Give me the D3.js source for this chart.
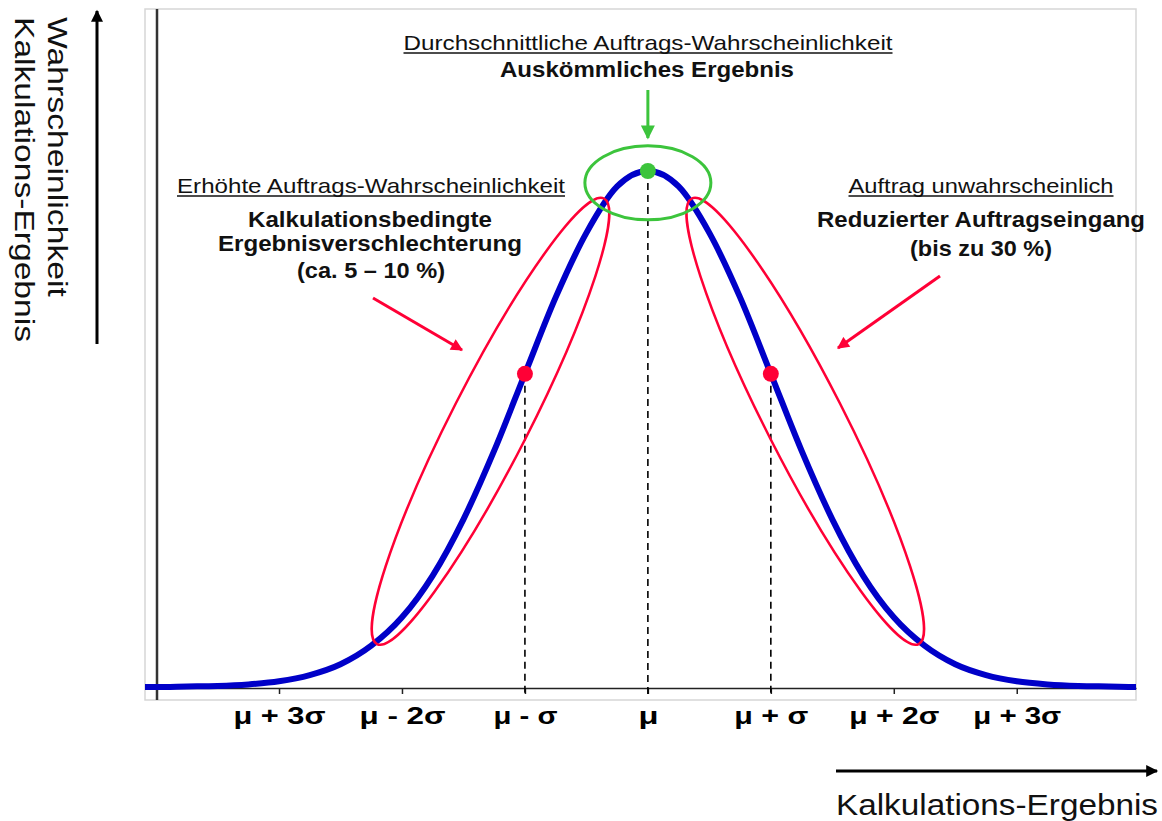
<!DOCTYPE html>
<html>
<head>
<meta charset="utf-8">
<script src="https://cdn.jsdelivr.net/npm/d3@7"></script>
<style>
  body { margin: 0; background: #fff; }
  svg { display: block; font-family: "Liberation Sans", Arial, sans-serif; }
</style>
</head>
<body>
<div id="chart"></div>
<script>
// Position on the x axis, in sigma units from the mean
var zValues = [-4.25, -4, -3.75, -3.5, -3.25, -3, -2.75, -2.5, -2.25, -2, -1.75, -1.5, -1.25, -1, -0.75, -0.5, -0.25,
  0, 0.25, 0.5, 0.75, 1, 1.25, 1.5, 1.75, 2, 2.25, 2.5, 2.75, 3, 3.25, 3.5, 3.75, 4, 4.25];
// Relative height of the curve (peak = 1)
var heights = [0, 0, 0.001, 0.002, 0.005, 0.011, 0.023, 0.044, 0.08, 0.135, 0.216, 0.325, 0.458, 0.607, 0.755, 0.88, 0.97,
  1, 0.97, 0.88, 0.755, 0.607, 0.458, 0.325, 0.216, 0.135, 0.08, 0.044, 0.023, 0.011, 0.005, 0.002, 0.001, 0, 0];

var tickValues = [-3, -2, -1, 0, 1, 2, 3];
var tickLabels = ["μ + 3σ", "μ - 2σ", "μ - σ", "μ", "μ + σ", "μ + 2σ", "μ + 3σ"];

// marked points on the curve
var redPoints = [{ z: -1, v: 0.607 }, { z: 1, v: 0.607 }];
var greenPoint = { z: 0, v: 1 };

// ellipses around the curve sections (centre in data units)
var redEllipses = [{ z: -1.28, v: 0.515, angle: -63 }, { z: 1.28, v: 0.515, angle: 63 }];
var greenEllipse = { z: 0, v: 0.977 };

var width = 1162, height = 821;
var frame = { left: 145, top: 9, right: 1136, bottom: 700 };

var blue = "#0000c8", red = "#ff0036", green = "#3cc43c";

var svg = d3.select("#chart").append("svg")
  .attr("width", width)
  .attr("height", height);

var x = d3.scaleLinear()
  .domain([-4.09, 3.97])
  .range([frame.left, frame.right]);

var y = d3.scaleLinear()
  .domain([0, 1])
  .range([687, 171]);

// arrow markers
var defs = svg.append("defs");
function addMarker(id, color, w, h) {
  defs.append("marker")
    .attr("id", id)
    .attr("viewBox", "0 0 10 10")
    .attr("refX", 9).attr("refY", 5)
    .attr("markerUnits", "userSpaceOnUse")
    .attr("markerWidth", w).attr("markerHeight", h)
    .attr("orient", "auto")
    .append("path")
    .attr("d", "M0,0 L10,5 L0,10 Z")
    .attr("fill", color);
}
addMarker("arrBlack", "#000", 14, 12);
addMarker("arrRed", red, 14, 12);
addMarker("arrGreen", green, 16, 14);

defs.append("clipPath").attr("id", "plotClip")
  .append("rect")
  .attr("x", frame.left).attr("y", frame.top)
  .attr("width", frame.right - frame.left).attr("height", frame.bottom - frame.top);

// plot frame
svg.append("rect")
  .attr("x", frame.left).attr("y", frame.top)
  .attr("width", frame.right - frame.left).attr("height", frame.bottom - frame.top)
  .attr("fill", "none")
  .attr("stroke", "#d6d6d6")
  .attr("stroke-width", 1.5);

// vertical axis line
svg.append("line")
  .attr("x1", 157).attr("x2", 157)
  .attr("y1", frame.top).attr("y2", frame.bottom)
  .attr("stroke", "#333")
  .attr("stroke-width", 2.5);

// x axis
var xAxis = svg.append("g")
  .attr("transform", "translate(0,688)")
  .call(d3.axisBottom(x).tickValues(tickValues).tickFormat((d, i) => tickLabels[i]).tickSize(6).tickSizeOuter(0));

xAxis.select(".domain").attr("stroke", "#222").attr("stroke-width", 1.5);
xAxis.selectAll(".tick line").attr("stroke", "#222").attr("stroke-width", 1.5);
var labelWidths = [92, 86, 64, 20, 74, 90, 88];
xAxis.selectAll(".tick text")
  .attr("y", 36)
  .attr("dy", null)
  .attr("fill", "#000")
  .style("font-size", "24px")
  .style("font-weight", "bold")
  .style("font-family", "'Liberation Sans', Arial, sans-serif")
  .attr("textLength", (d, i) => labelWidths[i])
  .attr("lengthAdjust", "spacingAndGlyphs");

// dashed guide lines
svg.selectAll(".guide")
  .data(redPoints.concat([greenPoint]))
  .enter().append("line")
  .attr("x1", d => x(d.z)).attr("x2", d => x(d.z))
  .attr("y1", d => y(d.v)).attr("y2", 696)
  .attr("stroke", "#000")
  .attr("stroke-width", 1.6)
  .attr("stroke-dasharray", "7,5");

// normal curve
var line = d3.line()
  .x((d, i) => x(zValues[i]))
  .y(d => y(d))
  .curve(d3.curveMonotoneX);

svg.append("path")
  .datum(heights)
  .attr("clip-path", "url(#plotClip)")
  .attr("d", line)
  .attr("fill", "none")
  .attr("stroke", blue)
  .attr("stroke-width", 6);

// ellipses
svg.selectAll(".redEllipse")
  .data(redEllipses)
  .enter().append("ellipse")
  .attr("transform", d => `translate(${x(d.z)},${y(d.v)}) rotate(${d.angle})`)
  .attr("rx", 250)
  .attr("ry", 39)
  .attr("fill", "none")
  .attr("stroke", red)
  .attr("stroke-width", 2.5);

svg.append("ellipse")
  .attr("cx", x(greenEllipse.z))
  .attr("cy", y(greenEllipse.v))
  .attr("rx", 63)
  .attr("ry", 37)
  .attr("fill", "none")
  .attr("stroke", green)
  .attr("stroke-width", 3);

// points
svg.selectAll(".redDot")
  .data(redPoints)
  .enter().append("circle")
  .attr("cx", d => x(d.z))
  .attr("cy", d => y(d.v))
  .attr("r", 8)
  .attr("fill", red);

svg.append("circle")
  .attr("cx", x(greenPoint.z))
  .attr("cy", y(greenPoint.v))
  .attr("r", 8)
  .attr("fill", green);

// arrows
svg.append("line")
  .attr("x1", x(0)).attr("x2", x(0))
  .attr("y1", 90).attr("y2", 138)
  .attr("stroke", green).attr("stroke-width", 3)
  .attr("marker-end", "url(#arrGreen)");

svg.append("line")
  .attr("x1", 373).attr("y1", 298)
  .attr("x2", 462).attr("y2", 350)
  .attr("stroke", red).attr("stroke-width", 3)
  .attr("marker-end", "url(#arrRed)");

svg.append("line")
  .attr("x1", 940).attr("y1", 276)
  .attr("x2", 838).attr("y2", 348)
  .attr("stroke", red).attr("stroke-width", 3)
  .attr("marker-end", "url(#arrRed)");

// axis arrows
svg.append("line")
  .attr("x1", 97).attr("x2", 97)
  .attr("y1", 344).attr("y2", 11)
  .attr("stroke", "#000").attr("stroke-width", 3)
  .attr("marker-end", "url(#arrBlack)");

svg.append("line")
  .attr("x1", 836).attr("x2", 1157)
  .attr("y1", 771).attr("y2", 771)
  .attr("stroke", "#000").attr("stroke-width", 3)
  .attr("marker-end", "url(#arrBlack)");

// annotation text
function addText(cx, baseline, txt, size, bold, len, underline) {
  svg.append("text")
    .attr("x", cx)
    .attr("y", baseline)
    .attr("text-anchor", "middle")
    .style("font-size", size + "px")
    .style("font-weight", bold ? "bold" : "normal")
    .attr("fill", "#111")
    .attr("textLength", len)
    .attr("lengthAdjust", "spacingAndGlyphs")
    .text(txt);
  if (underline) {
    svg.append("line")
      .attr("x1", cx - len / 2).attr("x2", cx + len / 2)
      .attr("y1", baseline + 3).attr("y2", baseline + 3)
      .attr("stroke", "#111").attr("stroke-width", 1.3);
  }
}

addText(648, 50, "Durchschnittliche Auftrags-Wahrscheinlichkeit", 21, false, 489, true);
addText(647, 77, "Auskömmliches Ergebnis", 22, true, 294, false);

addText(371, 193, "Erhöhte Auftrags-Wahrscheinlichkeit", 21, false, 388, true);
addText(370, 227, "Kalkulationsbedingte", 22, true, 244, false);
addText(370, 251, "Ergebnisverschlechterung", 22, true, 304, false);
addText(371, 278, "(ca. 5 – 10 %)", 22, true, 148, false);

addText(981, 193, "Auftrag unwahrscheinlich", 21, false, 265, true);
addText(981, 227, "Reduzierter Auftragseingang", 22, true, 328, false);
addText(981, 256, "(bis zu 30 %)", 22, true, 142, false);

// axis titles
svg.append("text")
  .attr("x", 836).attr("y", 815)
  .style("font-size", "29px")
  .attr("fill", "#111")
  .attr("textLength", 322)
  .attr("lengthAdjust", "spacingAndGlyphs")
  .text("Kalkulations-Ergebnis");

var yTitle = svg.append("g").attr("transform", "translate(0,17) rotate(90)");
yTitle.append("text")
  .attr("x", 0).attr("y", -48)
  .style("font-size", "27px")
  .attr("fill", "#111")
  .attr("textLength", 280)
  .attr("lengthAdjust", "spacingAndGlyphs")
  .text("Wahrscheinlichkeit");
yTitle.append("text")
  .attr("x", 0).attr("y", -15)
  .style("font-size", "27px")
  .attr("fill", "#111")
  .attr("textLength", 325)
  .attr("lengthAdjust", "spacingAndGlyphs")
  .text("Kalkulations-Ergebnis");
</script>
</body>
</html>
